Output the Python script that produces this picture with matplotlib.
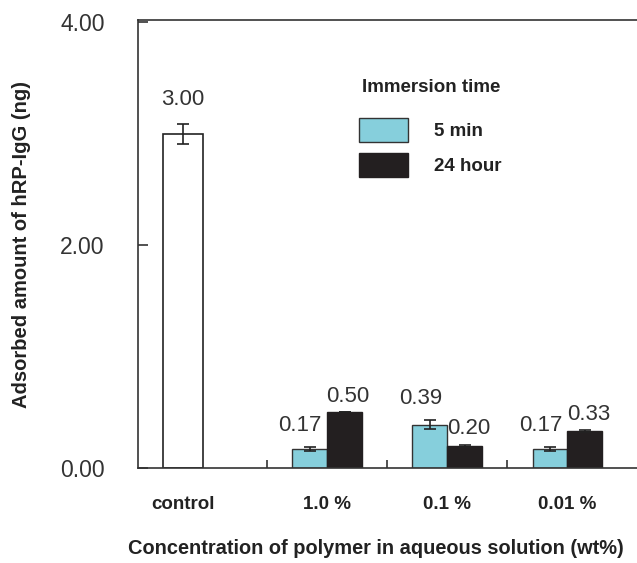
import matplotlib.pyplot as plt
import numpy as np

plt.rcParams['font.family'] = ['Liberation Sans', 'DejaVu Sans']

groups = ["1.0 %", "0.1 %", "0.01 %"]
min5 = [0.17, 0.39, 0.17]
min5_err = [0.02, 0.04, 0.02]
hour24 = [0.50, 0.20, 0.33]
hour24_err = [0.0, 0.01, 0.01]
control_val = 3.00
control_err = 0.09
yticks = [0.0, 2.0, 4.0]

blue = "#86cfdc"
black = "#231f20"
txt = "#333333"

fig = plt.figure(figsize=(6.37, 5.63), dpi=100)
ax = fig.add_axes([0.2166, 0.1687, 0.7834, 0.7958])

x = np.arange(1, len(groups) + 1)
w = 0.29
ebar = dict(ecolor="#222222", capsize=4, elinewidth=1.2, capthick=1.2)

# control bar
ax.bar(-0.2, control_val, 0.33, color="white", edgecolor="#222222", linewidth=1.2,
       yerr=control_err, error_kw=ebar)
ax.annotate(f"{control_val:.2f}", (-0.2, control_val + control_err), xytext=(0, 10),
            textcoords="offset points", ha="center", va="bottom", fontsize=16, color=txt)

b1 = ax.bar(x - w / 2, min5, w, color=blue, edgecolor="#333333", linewidth=1.0,
            yerr=min5_err, error_kw=ebar, label="5 min")
b2 = ax.bar(x + w / 2, hour24, w, color=black, edgecolor=black, linewidth=1.0,
            yerr=hour24_err, error_kw=ebar, label="24 hour")

for xi, v, e in zip(x - w / 2, min5, min5_err):
    ax.annotate(f"{v:.2f}", (xi - 0.08, v + e), xytext=(0, 8), textcoords="offset points",
                ha="center", va="bottom", fontsize=16, color=txt)
for xi, v, e in zip(x + w / 2, hour24, hour24_err):
    ax.annotate(f"{v:.2f}", (xi + 0.03, v + e), xytext=(0, 4), textcoords="offset points",
                ha="center", va="bottom", fontsize=16, color=txt)

ax.set_xlim(-0.575, 3.58)
ax.set_ylim(0, 4.02)

ax.set_yticks(yticks)
ax.set_yticklabels([f"{t:.2f}" for t in yticks], fontsize=16.5, color=txt)
ax.tick_params(axis="y", direction="in", length=7, width=1.2, pad=24, color="#333333")

ax.set_xticks([0.5, 1.5, 2.5])
ax.set_xticklabels([])
ax.tick_params(axis="x", which="major", direction="in", length=6, width=1.2, color="#333333")
ax.set_xticks([-0.2] + list(x), minor=True)
ax.set_xticklabels(["control"] + groups, minor=True, fontsize=13.5, fontweight="bold", color="#222222")
ax.tick_params(axis="x", which="minor", length=0, pad=20)

for s in ["left", "top", "bottom"]:
    ax.spines[s].set_linewidth(1.2)
    ax.spines[s].set_color("#333333")
ax.spines["right"].set_visible(False)

ax.set_ylabel("Adsorbed amount of hRP-IgG (ng)", fontsize=14.5, fontweight="bold", color="#222222")
ax.yaxis.set_label_coords(-0.214, 0.5)
ax.set_xlabel("Concentration of polymer in aqueous solution (wt%)", fontsize=14.4, fontweight="bold",
              color="#222222")
ax.xaxis.label.set_ha("left")
ax.xaxis.set_label_coords(-0.02, -0.158)

leg = ax.legend(handles=[b1, b2], title="Immersion time", frameon=False, loc="upper left",
                bbox_to_anchor=(0.41, 0.906), fontsize=13.5, handlelength=2.6, handleheight=1.6,
                handletextpad=1.4, labelspacing=0.55,
                title_fontproperties={"weight": "bold", "size": 13.5})
for t in leg.get_texts():
    t.set_fontweight("bold")
    t.set_color("#222222")
leg.get_title().set_color("#222222")
leg._legend_box.sep = 16

fig.savefig("out.png", dpi=100)
